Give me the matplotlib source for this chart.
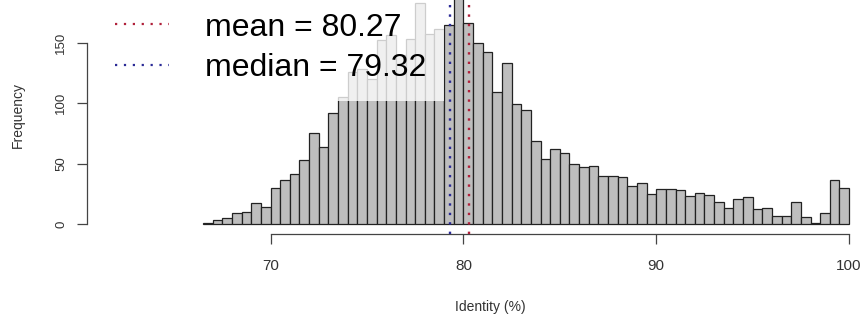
import numpy as np
import matplotlib
matplotlib.use("Agg")
import matplotlib.pyplot as plt
from matplotlib.lines import Line2D

plt.rcParams['font.family'] = ['Liberation Sans', 'DejaVu Sans']

# histogram of identity (%), 0.5-wide bins starting at 66.5
BIN_START = 66.5
BIN_WIDTH = 0.5
counts = [1, 3, 5, 9, 10, 17, 14, 30, 36, 41, 53, 75, 64, 92,
          105, 126, 128, 120, 152, 156, 140, 153, 183, 157, 161, 165, 205,
          166, 150, 142, 109, 133, 99, 94, 69, 54, 62, 59, 50, 47, 48,
          40, 40, 39, 31, 34, 25, 29, 29, 28, 23, 26, 24, 18, 13, 21, 22,
          12, 13, 7, 7, 18, 6, 1, 9, 36, 30]

mean_val = 80.27
median_val = 79.32
x_ticks = [70, 80, 90, 100]
y_ticks = [0, 50, 100, 150]

edges = BIN_START + BIN_WIDTH * np.arange(len(counts))

W, H = 867, 320
fig = plt.figure(figsize=(W / 100, H / 100), dpi=100)
ax = fig.add_axes([87 / W, (H - 234) / H, (W - 87) / W, 234 / H])

ax.bar(edges, counts, width=BIN_WIDTH, align='edge', color='#bebebe',
       edgecolor='#222222', linewidth=0.9, zorder=2)

ax.axvline(mean_val, color='#b0203a', linestyle=(0, (1, 3)), linewidth=1.7, zorder=6)
ax.axvline(median_val, color='#2a2a96', linestyle=(0, (1, 3)), linewidth=1.7, zorder=6)

ax.set_xlim(60.48, 100.93)
ax.set_ylim(-8.3, 185.3)

for s in ['top', 'right']:
    ax.spines[s].set_visible(False)
ax.spines['left'].set_bounds(0, 150)
ax.spines['bottom'].set_bounds(70, 100)
for s in ['left', 'bottom']:
    ax.spines[s].set_color('#444444')
    ax.spines[s].set_linewidth(0.9)

ax.set_xticks(x_ticks)
ax.set_yticks(y_ticks)
ax.tick_params(axis='both', direction='out', length=7.2, width=0.9,
               color='#444444', labelcolor='#333333')
ax.tick_params(axis='x', pad=10.5, labelsize=11)
ax.tick_params(axis='y', pad=7, labelrotation=90, labelsize=9.5)
for lab in ax.get_yticklabels():
    lab.set_va('center')

ax.set_xlabel('Identity (%)', fontsize=10, color='#333333')
ax.xaxis.set_label_coords(0.517, -0.28)
ax.set_ylabel('Frequency', fontsize=10, color='#333333')
ax.yaxis.set_label_coords(-0.08, 0.51)

handles = [Line2D([], [], color='#b0203a', linestyle=(0, (1, 3)), linewidth=1.6),
           Line2D([], [], color='#2a2a96', linestyle=(0, (1, 3)), linewidth=1.6)]
labels = ['mean = %.2f' % mean_val, 'median = %.2f' % median_val]
leg = ax.legend(handles, labels, loc='lower right',
                bbox_to_anchor=(444 / W, (H - 101) / H),
                bbox_transform=fig.transFigure, borderaxespad=0,
                fontsize=23, frameon=True, fancybox=False, facecolor='white',
                edgecolor='none', framealpha=0.78, borderpad=0.55,
                labelspacing=0.34, handlelength=1.7, handletextpad=1.12)
leg.set_zorder(5)

fig.savefig('out.png', dpi=100)
